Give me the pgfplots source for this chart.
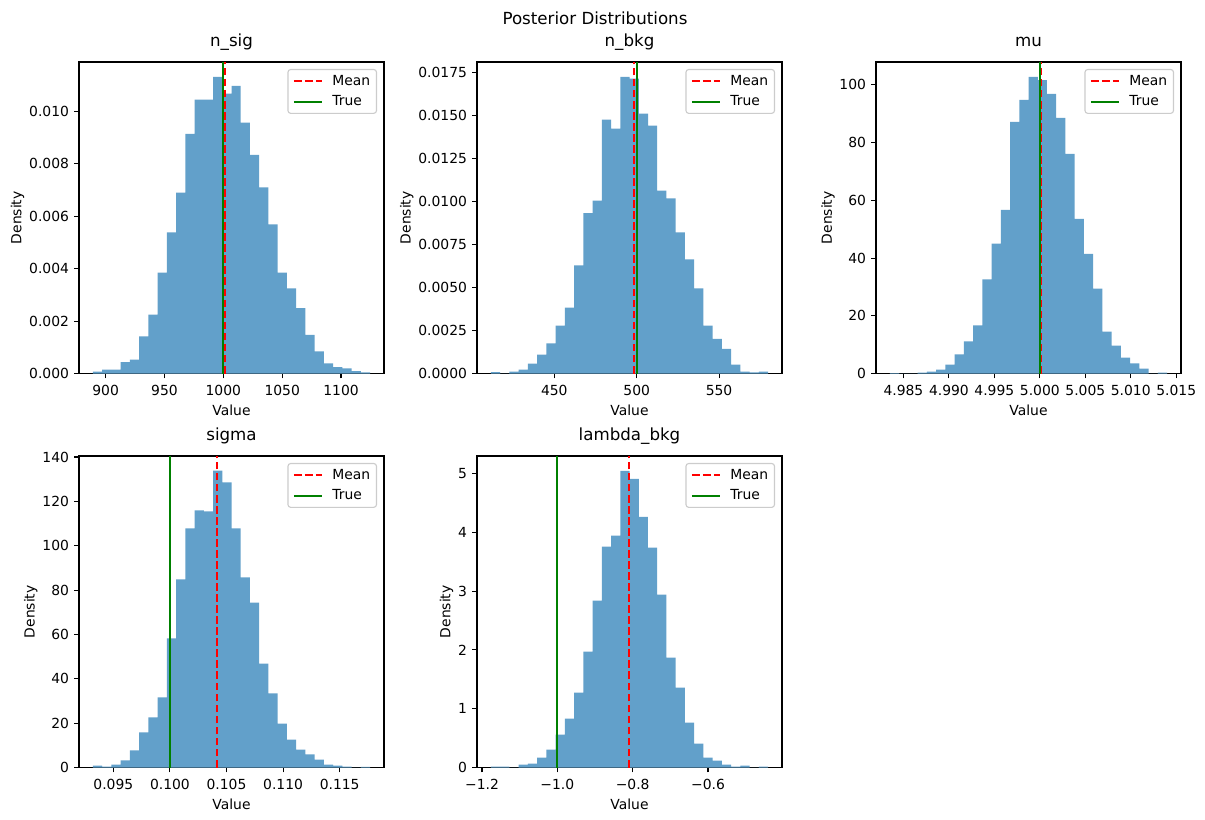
\documentclass[border=0pt]{standalone}
\usepackage{fontspec}
\setmainfont{DejaVu Sans}
\usepackage{pgfplots}
\pgfplotsset{compat=1.18}
\definecolor{histc}{RGB}{98,160,202}
\definecolor{mplgreen}{RGB}{0,128,0}
\definecolor{legframe}{RGB}{204,204,204}
\pgfplotsset{
  panel/.style={
    scale only axis, width=219.6pt, height=224.3pt, anchor=north west,
    line width=0.8pt,
    axis line style={black},
    tick align=outside, tick pos=left,
    major tick length=3.5pt,
    every tick/.append style={black, line width=0.8pt},
    tick label style={font=\fontsize{10}{12}\selectfont},
    xticklabel style={yshift=-1.5pt},
    label style={font=\fontsize{10}{12}\selectfont},
    xlabel style={yshift=1pt},
    ylabel style={yshift=-3.6pt},
    title style={font=\fontsize{12}{14}\selectfont, at={(0.5,1)}, anchor=base, yshift=5.5pt},
    xlabel={Value}, ylabel={Density},
    ymin=0, scaled ticks=false,
    legend style={at={(1,1)}, anchor=north east, xshift=-5pt, yshift=-5pt,
      draw=legframe, line width=0.8pt, rounded corners=2pt, fill=white, fill opacity=0.8,
      text opacity=1, draw opacity=1, font=\fontsize{10}{12}\selectfont,
      inner xsep=3.5pt, inner ysep=3pt, row sep=4pt, column sep=6pt,
      nodes={inner sep=1pt}},
    legend cell align=left,
    legend image code/.code={\draw[##1] (0pt,0pt) -- (20pt,0pt);},
  },
  hist/.style={const plot, fill=histc, draw=none, forget plot},
  meanl/.style={red, line width=1.5pt, dash pattern=on 5.55pt off 2.4pt},
  truel/.style={mplgreen, line width=1.5pt},
}
\begin{document}
\begin{tikzpicture}
\path (0,0) rectangle (867.6pt,-590.4pt);
\node[font=\fontsize{12}{14}\selectfont] at (428.4pt,-12.96pt) {Posterior Distributions};

% n_sig
\begin{axis}[panel, at={(56.88pt,-44.64pt)}, title={n\_sig},
  xmin=877.4, xmax=1136.5, ymax=0.011876,
  xtick={900,950,1000,1050,1100}, xticklabels={900,950,1000,1050,1100},
  ytick={0,0.002,0.004,0.006,0.008,0.010},
  yticklabels={0.000,0.002,0.004,0.006,0.008,0.010}]
\addplot[hist] coordinates {
(889.20,0.000076) (897.05,0.00015) (904.90,0.00015) (912.75,0.00043) (920.60,0.00053)
(928.45,0.00142) (936.30,0.00225) (944.15,0.00385) (952.00,0.00538) (959.85,0.0069)
(967.70,0.00914) (975.55,0.01044) (983.40,0.01044) (991.25,0.01131) (999.10,0.01067)
(1006.95,0.01097) (1014.80,0.00956) (1022.65,0.00834) (1030.50,0.0071) (1038.35,0.00569)
(1046.20,0.00385) (1054.05,0.00325) (1061.90,0.00249) (1069.75,0.00147) (1077.60,0.00084)
(1085.45,0.00039) (1093.30,0.00024) (1101.15,0.0002) (1109.00,0.00009) (1116.85,0.00004)
(1124.70,0.00004)} \closedcycle;
\addplot[meanl] coordinates {(1001.6,0) (1001.6,0.011876)};
\addlegendentry{Mean}
\addplot[truel] coordinates {(1000,0) (1000,0.011876)};
\addlegendentry{True}
\end{axis}

% n_bkg
\begin{axis}[panel, at={(343.44pt,-44.64pt)}, title={n\_bkg},
  xmin=403.09, xmax=588.2, ymax=0.018134,
  xtick={450,500,550}, xticklabels={450,500,550},
  ytick={0,0.0025,0.005,0.0075,0.01,0.0125,0.015,0.0175},
  yticklabels={0.0000,0.0025,0.0050,0.0075,0.0100,0.0125,0.0150,0.0175}]
\addplot[hist] coordinates {
(411.50,0.000078) (417.11,0) (422.72,0.000116) (428.33,0.00023) (433.94,0.00058)
(439.55,0.0011) (445.16,0.00175) (450.77,0.00279) (456.38,0.00384) (461.99,0.00629)
(467.60,0.00933) (473.21,0.01007) (478.82,0.01478) (484.43,0.01426) (490.04,0.01727)
(495.65,0.01717) (501.26,0.01513) (506.87,0.01443) (512.48,0.01065) (518.09,0.01019)
(523.70,0.00821) (529.31,0.00664) (534.92,0.00495) (540.53,0.00279) (546.14,0.00202)
(551.75,0.00144) (557.36,0.00052) (562.97,0.000116) (568.58,0.00006) (574.19,0.000116)
(579.80,0.000116)} \closedcycle;
\addplot[meanl] coordinates {(498.2,0) (498.2,0.018134)};
\addlegendentry{Mean}
\addplot[truel] coordinates {(500,0) (500,0.018134)};
\addlegendentry{True}
\end{axis}

% mu
\begin{axis}[panel, at={(630.72pt,-44.64pt)}, title={mu},
  xmin=4.981986, xmax=5.015524, ymax=107.94,
  xtick={4.985,4.99,4.995,5.0,5.005,5.01,5.015},
  xticklabels={4.985,4.990,4.995,5.000,5.005,5.010,5.015},
  ytick={0,20,40,60,80,100}, yticklabels={0,20,40,60,80,100}]
\addplot[hist] coordinates {
(4.983510,0.1) (4.984526,0) (4.985543,0) (4.986559,0.35) (4.987575,0.69)
(4.988592,1.38) (4.989608,3.1) (4.990624,6.6) (4.991640,11.1) (4.992657,16.7)
(4.993673,32.6) (4.994689,45.0) (4.995706,56.7) (4.996722,87.2) (4.997738,94.8)
(4.998755,102.8) (4.999771,101.7) (5.000787,96.9) (5.001803,88.6) (5.002820,76.1)
(5.003836,53.6) (5.004852,41.5) (5.005869,29.4) (5.006885,14.5) (5.007901,9.7)
(5.008918,5.5) (5.009934,3.5) (5.010950,1.7) (5.011966,0) (5.012983,0.35)
(5.013999,0.35)} \closedcycle;
\addplot[meanl] coordinates {(5.0001,0) (5.0001,107.94)};
\addlegendentry{Mean}
\addplot[truel] coordinates {(5.0,0) (5.0,107.94)};
\addlegendentry{True}
\end{axis}

% sigma
\begin{axis}[panel, at={(56.88pt,-328.32pt)}, title={sigma},
  xmin=0.091969, xmax=0.118913, ymax=140.45,
  xtick={0.095,0.1,0.105,0.11,0.115},
  xticklabels={0.095,0.100,0.105,0.110,0.115},
  ytick={0,20,40,60,80,100,120,140}, yticklabels={0,20,40,60,80,100,120,140}]
\addplot[hist] coordinates {
(0.093194,0.9) (0.094010,0.45) (0.094827,1.35) (0.095643,3.2) (0.096460,7.7)
(0.097276,15.8) (0.098093,22.6) (0.098909,31.6) (0.099726,58.2) (0.100542,84.8)
(0.101359,107.8) (0.102175,115.9) (0.102992,115.5) (0.103808,133.8) (0.104625,128.6)
(0.105441,107.8) (0.106258,85.7) (0.107074,74.4) (0.107890,46.9) (0.108707,33.4)
(0.109523,19.8) (0.110340,12.6) (0.111156,8.1) (0.111973,5.9) (0.112789,3.6)
(0.113606,1.35) (0.114422,0.9) (0.115239,0.45) (0.116055,0) (0.116872,0.3)
(0.117688,0.3)} \closedcycle;
\addplot[meanl] coordinates {(0.10412,0) (0.10412,140.45)};
\addlegendentry{Mean}
\addplot[truel] coordinates {(0.1,0) (0.1,140.45)};
\addlegendentry{True}
\end{axis}

% lambda_bkg
\begin{axis}[panel, at={(343.44pt,-328.32pt)}, title={lambda\_bkg},
  xmin=-1.21326, xmax=-0.40358, ymax=5.297,
  xtick={-1.2,-1.0,-0.8,-0.6},
  xticklabels={−1.2,−1.0,−0.8,−0.6},
  ytick={0,1,2,3,4,5}, yticklabels={0,1,2,3,4,5}]
\addplot[hist] coordinates {
(-1.17646,0.017) (-1.15192,0.017) (-1.12739,0) (-1.10285,0.051) (-1.07832,0.068)
(-1.05378,0.17) (-1.02924,0.306) (-1.00471,0.56) (-0.98017,0.832) (-0.95564,1.274)
(-0.93110,1.971) (-0.90656,2.837) (-0.88203,3.754) (-0.85749,3.941) (-0.83296,5.045)
(-0.80842,4.909) (-0.78388,4.264) (-0.75935,3.737) (-0.73481,2.939) (-0.71028,1.869)
(-0.68574,1.359) (-0.66120,0.764) (-0.63667,0.408) (-0.61213,0.17) (-0.58760,0.119)
(-0.56306,0.051) (-0.53852,0.017) (-0.51399,0.034) (-0.48945,0) (-0.46492,0.017)
(-0.44038,0.017)} \closedcycle;
\addplot[meanl] coordinates {(-0.8097,0) (-0.8097,5.297)};
\addlegendentry{Mean}
\addplot[truel] coordinates {(-1.0,0) (-1.0,5.297)};
\addlegendentry{True}
\end{axis}
\end{tikzpicture}
\end{document}
